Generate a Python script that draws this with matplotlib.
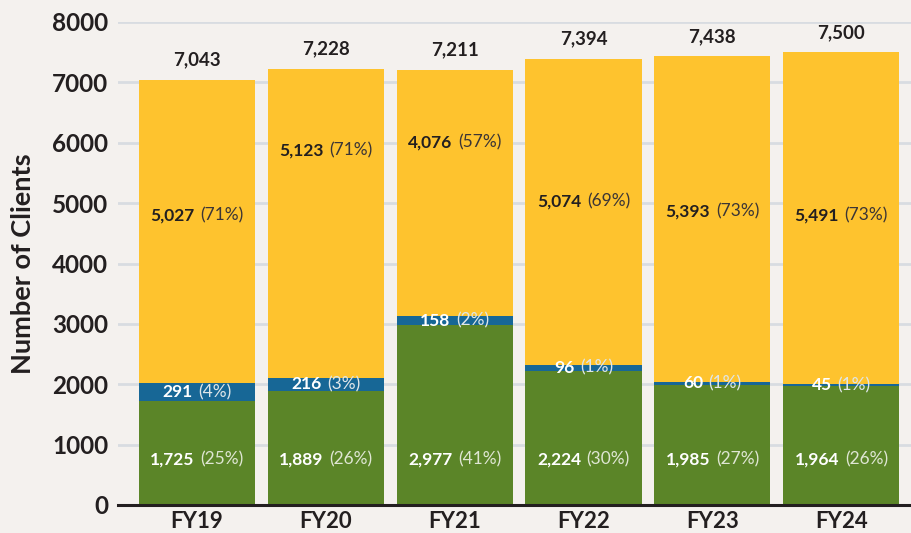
import matplotlib
matplotlib.use("Agg")
import matplotlib.pyplot as plt
from matplotlib.offsetbox import TextArea, HPacker, AnnotationBbox

plt.rcParams['font.family'] = ['Lato', 'DejaVu Sans']

years = ["FY19", "FY20", "FY21", "FY22", "FY23", "FY24"]
green_vals = [1725, 1889, 2977, 2224, 1985, 1964]
green_pct = [25, 26, 41, 30, 27, 26]
blue_vals = [291, 216, 158, 96, 60, 45]
blue_pct = [4, 3, 2, 1, 1, 1]
yellow_vals = [5027, 5123, 4076, 5074, 5393, 5491]
yellow_pct = [71, 71, 57, 69, 73, 73]
totals = [7043, 7228, 7211, 7394, 7438, 7500]
yticks = [0, 1000, 2000, 3000, 4000, 5000, 6000, 7000, 8000]

# label vertical positions (data units) for the yellow segment labels
yellow_label_y = [4800, 5880, 6000, 5030, 4870, 4800]
green_label_y = 750

BG = '#f4f1ee'
GREEN = '#5b8528'
BLUE = '#176796'
YELLOW = '#fec32e'
DARK = '#231f20'

fig = plt.figure(figsize=(9.11, 5.33), dpi=100, facecolor=BG)
ax = fig.add_axes([118/911, 28/533, 1 - 118/911, (505-22)/533])
ax.set_facecolor(BG)

x = list(range(len(years)))
w = 0.9
ax.bar(x, green_vals, width=w, color=GREEN, zorder=3)
ax.bar(x, blue_vals, width=w, bottom=green_vals, color=BLUE, zorder=3)
bottoms2 = [g + b for g, b in zip(green_vals, blue_vals)]
ax.bar(x, yellow_vals, width=w, bottom=bottoms2, color=YELLOW, zorder=3)

ax.set_ylim(0, 8000)
ax.set_xlim(-0.61, 5.54)
ax.set_yticks(yticks)
ax.set_yticklabels([str(t) for t in yticks], fontsize=17.5, fontweight='bold', color=DARK)
ax.set_xticks(x)
ax.set_xticklabels(years, fontsize=16, fontweight='bold', color=DARK)
ax.tick_params(axis='both', length=0)
ax.tick_params(axis='y', pad=7)
ax.tick_params(axis='x', pad=4)
ax.grid(axis='y', color='#d8dce1', linewidth=2, zorder=0)
for s in ['top', 'right', 'left']:
    ax.spines[s].set_visible(False)
ax.spines['bottom'].set_color(DARK)
ax.spines['bottom'].set_linewidth(2.2)
ax.spines['bottom'].set_zorder(4)
ax.set_ylabel('Number of Clients', fontsize=19.5, fontweight='bold', color=DARK)
ax.yaxis.set_label_coords((35 - 118) / 793, 0.5)


def two_part(xv, yv, bold_txt, norm_txt, bold_color, norm_color, size=12.5):
    a = TextArea(bold_txt, textprops=dict(fontsize=size, fontweight='bold', color=bold_color))
    b = TextArea(norm_txt, textprops=dict(fontsize=size, fontweight='normal', color=norm_color))
    box = HPacker(children=[a, b], align='baseline', pad=0, sep=4)
    ab = AnnotationBbox(box, (xv, yv), frameon=False, box_alignment=(0.5, 0.5), zorder=5)
    ax.add_artist(ab)


for i in x:
    two_part(i, green_label_y, f"{green_vals[i]:,}", f"({green_pct[i]}%)", 'white', '#dfe6d3')
    two_part(i, green_vals[i] + blue_vals[i] / 2, f"{blue_vals[i]:,}", f"({blue_pct[i]}%)", 'white', '#dfe6e9')
    two_part(i, yellow_label_y[i], f"{yellow_vals[i]:,}", f"({yellow_pct[i]}%)", DARK, '#3b3536')
    ax.annotate(f"{totals[i]:,}", (i, totals[i]), xytext=(0, 8), textcoords='offset points',
                ha='center', va='bottom', fontsize=13.5, fontweight='bold', color=DARK, zorder=5)

fig.savefig('out.png', dpi=100, facecolor=BG)
